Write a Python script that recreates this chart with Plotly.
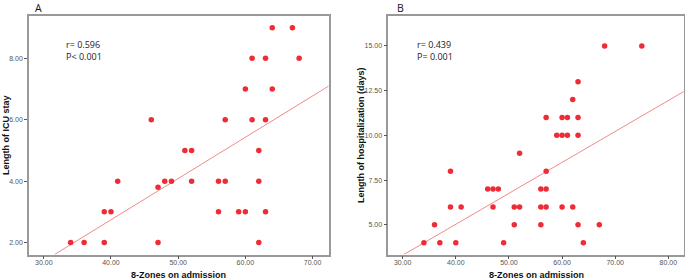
import plotly.graph_objects as go

# Panel A: 8-Zones on admission vs Length of ICU stay
a_x = [64, 67, 61, 63, 68, 60, 64, 46, 57, 61, 63, 51, 52, 62,
       41, 48, 49, 52, 56, 57, 62, 47, 39, 40, 56, 59, 60, 63,
       34, 36, 39, 47, 62]
a_y = [9, 9, 8, 8, 8, 7, 7, 6, 6, 6, 6, 5, 5, 5,
       4, 4, 4, 4, 4, 4, 4, 3.8, 3, 3, 3, 3, 3, 3,
       2, 2, 2, 2, 2]
a_fit = [-2.64, 0.1345]  # intercept, slope
a_xrange = [27.8, 72.4]
a_yrange = [1.61, 9.39]
a_xticks = [30, 40, 50, 60, 70]
a_yticks = [2, 4, 6, 8]

# Panel B: 8-Zones on admission vs Length of hospitalization
b_x = [68, 75, 63, 62, 57, 60, 61, 63, 59, 60, 61, 63, 52, 39, 57,
       46, 47, 48, 56, 57, 39, 41, 47, 51, 52, 56, 57, 60, 62,
       36, 51, 56, 63, 67, 34, 37, 40, 49, 64]
b_y = [15, 15, 13, 12, 11, 11, 11, 11, 10, 10, 10, 10, 9, 8, 8,
       7, 7, 7, 7, 7, 6, 6, 6, 6, 6, 6, 6, 6, 6,
       5, 5, 5, 5, 5, 4, 4, 4, 4, 4]
b_fit = [-1.89, 0.173]
b_xrange = [27.3, 82.9]
b_yrange = [3.34, 16.69]
b_xticks = [30, 40, 50, 60, 70, 80]
b_yticks = [5, 7.5, 10, 12.5, 15]

W, H = 685, 279
dot_color = "#ef2b36"
line_color = "#f08a8a"
frame_color = "#999999"

def px(v):
    return v / W

def py(v):
    return 1 - v / H

fig = go.Figure()

def line_pts(fit, xr, yr):
    b0, b1 = fit
    x0 = max(xr[0], (yr[0] - b0) / b1)
    x1 = min(xr[1], (yr[1] - b0) / b1)
    return [x0, x1], [b0 + b1 * x0, b0 + b1 * x1]

lx, ly = line_pts(a_fit, a_xrange, a_yrange)
fig.add_trace(go.Scatter(x=lx, y=ly, mode="lines", line=dict(color=line_color, width=1),
                         xaxis="x", yaxis="y", showlegend=False, hoverinfo="skip"))
fig.add_trace(go.Scatter(x=a_x, y=a_y, mode="markers",
                         marker=dict(color=dot_color, size=5.5, line=dict(width=0)),
                         xaxis="x", yaxis="y", showlegend=False))
lx, ly = line_pts(b_fit, b_xrange, b_yrange)
fig.add_trace(go.Scatter(x=lx, y=ly, mode="lines", line=dict(color=line_color, width=1),
                         xaxis="x2", yaxis="y2", showlegend=False, hoverinfo="skip"))
fig.add_trace(go.Scatter(x=b_x, y=b_y, mode="markers",
                         marker=dict(color=dot_color, size=5.5, line=dict(width=0)),
                         xaxis="x2", yaxis="y2", showlegend=False))

tickfont = dict(family="Liberation Sans, Arial, sans-serif", size=7, color="#555")
common = dict(showgrid=False, zeroline=False, showline=True, mirror=True,
              linecolor=frame_color, linewidth=1.5, ticks="outside", ticklen=3,
              tickwidth=1, tickcolor="#555", tickfont=tickfont)

ydom = [py(254.5), py(15.7)]
fig.update_layout(
    width=W, height=H, margin=dict(l=0, r=0, t=0, b=0),
    plot_bgcolor="white", paper_bgcolor="white",
    xaxis=dict(domain=[px(29), px(328.7)], range=a_xrange, tickvals=a_xticks,
               ticktext=["%.2f" % v for v in a_xticks], anchor="y", ticklabelstandoff=-3, **common),
    yaxis=dict(domain=ydom, range=a_yrange, tickvals=a_yticks,
               ticktext=["%.2f" % v for v in a_yticks], anchor="x", ticklabelstandoff=0, **common),
    xaxis2=dict(domain=[px(388.3), px(683.8)], range=b_xrange, tickvals=b_xticks,
                ticktext=["%.2f" % v for v in b_xticks], anchor="y2", ticklabelstandoff=-3, **common),
    yaxis2=dict(domain=ydom, range=b_yrange, tickvals=b_yticks,
                ticktext=["%.2f" % v for v in b_yticks], anchor="x2", ticklabelstandoff=0, **common),
)

titlefont = dict(family="Liberation Sans, Arial, sans-serif", size=9, color="#111")
textfont = dict(family="Open Sans, Liberation Sans, sans-serif", size=9, color="#222")
labfont = dict(family="Open Sans, Liberation Sans, sans-serif", size=10.5, color="#111")
ann = [
    dict(text="A", x=px(38.5), y=1, yanchor="top", borderpad=0, font=labfont),
    dict(text="B", x=px(400.5), y=1, yanchor="top", borderpad=0, font=labfont),
    dict(text="<b>8-Zones on admission</b>", x=px(178.5), y=py(274.5), font=titlefont),
    dict(text="<b>8-Zones on admission</b>", x=px(536), y=py(274.5), font=titlefont),
    dict(text="<b>Length of ICU stay</b>", x=px(6), y=py(135), textangle=-90, font=titlefont),
    dict(text="<b>Length of hospitalization (days)</b>", x=px(361), y=py(135), textangle=-90, font=titlefont),
    dict(text="r= 0.596<br>P< 0.001", x=px(64), y=py(50), xanchor="left", align="left", font=textfont),
    dict(text="r= 0.439<br>P= 0.001", x=px(415), y=py(50), xanchor="left", align="left", font=textfont),
]
for a in ann:
    a.setdefault("xanchor", "center")
    a.setdefault("yanchor", "middle")
    fig.add_annotation(xref="paper", yref="paper", showarrow=False, **a)

fig.write_html("out.html", config={"displayModeBar": False},
               post_script="document.body.style.margin='0';")
